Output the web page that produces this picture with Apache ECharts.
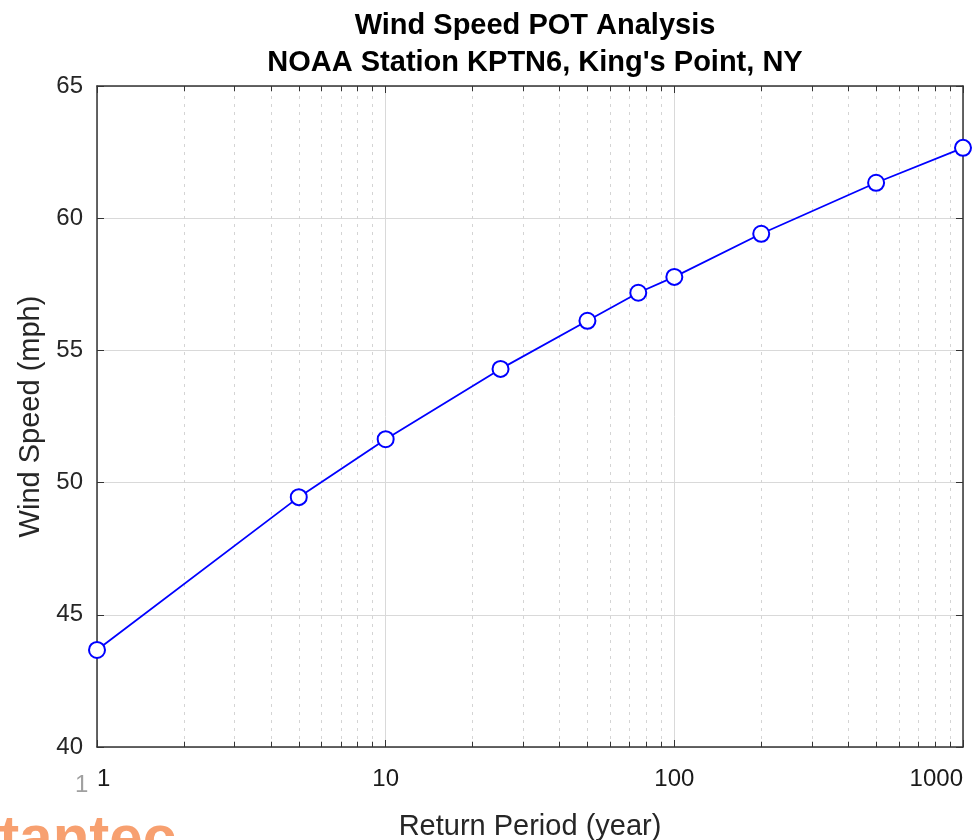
<!DOCTYPE html>
<html>
<head>
<meta charset="utf-8">
<script src="https://cdn.jsdelivr.net/npm/echarts@6/dist/echarts.min.js"></script>
<style>
  html, body { margin: 0; padding: 0; background: #fff; }
  #chart { width: 974px; height: 840px; }
</style>
</head>
<body>
<div id="chart"></div>
<script>
// return periods (years) and POT wind speeds (mph)
var returnPeriod = [1, 5, 10, 25, 50, 75, 100, 200, 500, 1000];
var windSpeed = [43.67, 49.45, 51.64, 54.30, 56.12, 57.18, 57.78, 59.41, 61.34, 62.66];

// minor log grid positions
var minorTicks = [2, 3, 4, 5, 6, 7, 8, 9, 20, 30, 40, 50, 60, 70, 80, 90, 200, 300, 400, 500, 600, 700, 800, 900];

var yMin = 40, yMax = 65, yStep = 5;
var xMin = 1, xMax = 1000;

var axisColor = '#333333';
var labelColor = '#262626';
var font = 'Liberation Sans, Arial, Helvetica, sans-serif';

var chart = echarts.init(document.getElementById('chart'));

// dotted minor gridlines
var minorGrid = [];
minorTicks.forEach(function(v){
    minorGrid.push({ xAxis: v });
});

// small inward minor ticks at the bottom and top edges
var tickLen = 0.2;
var minorTickMarks = [];
minorTicks.forEach(function(v){
    minorTickMarks.push([{ coord: [v, yMin] }, { coord: [v, yMin + tickLen] }]);
    minorTickMarks.push([{ coord: [v, yMax] }, { coord: [v, yMax - tickLen] }]);
});

var option = {
    animation: false,
    title: {
        text: 'Wind Speed POT Analysis\nNOAA Station KPTN6, King\'s Point, NY',
        left: 530,
        top: 2,
        textAlign: 'center',
        textStyle: {
            fontFamily: font,
            fontSize: 29,
            fontWeight: 'bold',
            color: '#000',
            lineHeight: 37
        }
    },
    grid: {
        left: 97,
        right: 11,
        top: 86,
        bottom: 93,
        outerBoundsMode: 'none'
    },
    xAxis: [
        {
            type: 'log',
            logBase: 10,
            min: xMin,
            max: xMax,
            splitNumber: 3,
            position: 'bottom',
            name: 'Return Period (year)',
            nameLocation: 'middle',
            nameGap: 65,
            nameTextStyle: { fontFamily: font, fontSize: 29, color: labelColor },
            axisLine: { lineStyle: { color: axisColor, width: 1.5 } },
            axisTick: { inside: true, length: 7, lineStyle: { color: axisColor } },
            axisLabel: {
                fontFamily: font,
                fontSize: 24,
                color: '#1a1a1a',
                margin: 20,
                alignMinLabel: 'left',
                alignMaxLabel: 'right',
                formatter: function(v){ return String(Math.round(v)); }
            },
            splitLine: { show: true, lineStyle: { color: '#d9d9d9', width: 1 } }
        },
        {
            type: 'log',
            logBase: 10,
            min: xMin,
            max: xMax,
            splitNumber: 3,
            position: 'top',
            axisLine: { lineStyle: { color: axisColor, width: 1.5 } },
            axisTick: { inside: true, length: 7, lineStyle: { color: axisColor } },
            axisLabel: { show: false },
            splitLine: { show: false }
        }
    ],
    yAxis: [
        {
            type: 'value',
            min: yMin,
            max: yMax,
            interval: yStep,
            position: 'left',
            name: 'Wind Speed (mph)',
            nameLocation: 'middle',
            nameGap: 51,
            nameTextStyle: { fontFamily: font, fontSize: 29, color: labelColor },
            axisLine: { show: true, lineStyle: { color: axisColor, width: 1.5 } },
            axisTick: { show: true, inside: true, length: 7, lineStyle: { color: axisColor } },
            axisLabel: { fontFamily: font, fontSize: 24, color: labelColor, margin: 14 },
            splitLine: { show: true, lineStyle: { color: '#d9d9d9', width: 1 } }
        },
        {
            type: 'value',
            min: yMin,
            max: yMax,
            interval: yStep,
            position: 'right',
            axisLine: { show: true, lineStyle: { color: axisColor, width: 1.5 } },
            axisTick: { show: true, inside: true, length: 7, lineStyle: { color: axisColor } },
            axisLabel: { show: false },
            splitLine: { show: false }
        }
    ],
    graphic: [
        {
            type: 'text',
            left: 75,
            top: 773,
            silent: true,
            style: { text: '1', font: '24px ' + font, fill: '#a0a0a0' }
        },
        {
            type: 'text',
            left: -34,
            top: 810,
            silent: true,
            style: { text: 'stantec', font: 'bold 60px ' + font, fill: '#f7a070' }
        }
    ],
    series: [
        {
            name: 'grid',
            type: 'line',
            data: [],
            silent: true,
            markLine: {
                silent: true,
                symbol: 'none',
                label: { show: false },
                lineStyle: { color: '#d4d4d4', width: 1, type: [3, 5] },
                data: minorGrid
            }
        },
        {
            name: 'ticks',
            type: 'line',
            data: [],
            silent: true,
            markLine: {
                silent: true,
                symbol: 'none',
                label: { show: false },
                lineStyle: { color: axisColor, width: 1, type: 'solid' },
                data: minorTickMarks
            }
        },
        {
            name: 'Wind Speed',
            type: 'line',
            data: returnPeriod.map(function(x, i){ return [x, windSpeed[i]]; }),
            symbol: 'emptyCircle',
            symbolSize: 16,
            lineStyle: { color: '#0000ff', width: 1.8 },
            itemStyle: { color: '#0000ff', borderColor: '#0000ff', borderWidth: 1.8 },
            z: 5
        }
    ]
};

chart.setOption(option);
</script>
</body>
</html>
